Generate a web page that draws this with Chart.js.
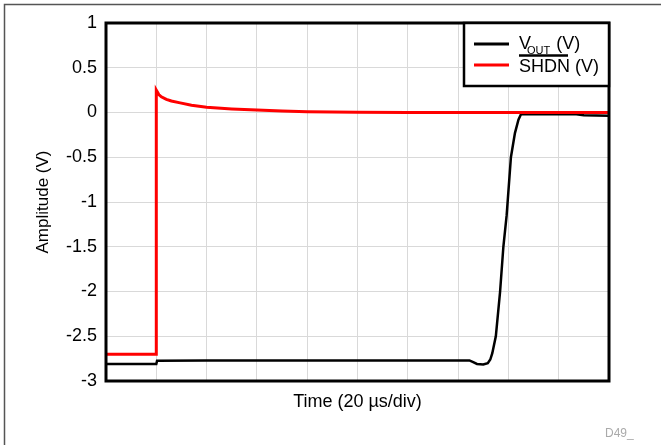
<!DOCTYPE html>
<html>
<head>
<meta charset="utf-8">
<script src="https://cdn.jsdelivr.net/npm/chart.js@4/dist/chart.umd.min.js"></script>
<style>
  html, body { margin: 0; padding: 0; background: #fff; }
  #wrap { width: 661px; height: 445px; }
</style>
</head>
<body>
<div id="wrap"><canvas id="scopeChart" width="661" height="445"></canvas></div>
<script>
// time axis in microseconds (10 divisions of 20 us)
var yTicks = [1, 0.5, 0, -0.5, -1, -1.5, -2, -2.5, -3];

var voutTime = [0, 20, 20.3, 40, 80, 120, 144.5, 146, 147.5, 150, 151.8, 152.8, 153.6, 155, 156.7, 158, 159.3, 161, 162.6, 164, 165, 175, 187, 190, 200];
var voutVolts = [-2.81, -2.81, -2.775, -2.77, -2.77, -2.77, -2.77, -2.79, -2.81, -2.815, -2.80, -2.76, -2.69, -2.5, -2.0, -1.5, -1.15, -0.5, -0.23, -0.08, -0.02, -0.02, -0.02, -0.03, -0.035];

var shdnTime = [0, 20, 20, 21, 22, 24, 26, 29, 34, 40, 50, 60, 70, 80, 90, 100, 120, 200];
var shdnVolts = [-2.7, -2.7, 0.25, 0.2, 0.175, 0.147, 0.128, 0.11, 0.08, 0.058, 0.04, 0.028, 0.017, 0.009, 0.005, 0.003, 0.0, 0.0];

var FONT = '"Liberation Sans", Arial, sans-serif';

function toPoints(xs, ys) {
  return xs.map(function (x, i) { return { x: x, y: ys[i] }; });
}

var framePlugin = {
  id: 'frame',
  beforeDraw: function (chart) {
    var c = chart.ctx;
    c.save();
    c.fillStyle = '#fff';
    c.fillRect(0, 0, chart.width, chart.height);
    c.strokeStyle = '#555';
    c.lineWidth = 1.5;
    c.beginPath();
    c.moveTo(4.5, chart.height + 2);
    c.lineTo(4.5, 4.5);
    c.lineTo(chart.width + 2, 4.5);
    c.stroke();
    c.restore();
  },
  afterDraw: function (chart) {
    var c = chart.ctx, a = chart.chartArea;
    c.save();
    c.strokeStyle = '#000';
    c.lineWidth = 3;
    c.strokeRect(a.left, a.top, a.right - a.left, a.bottom - a.top);

    // legend box
    var lx = 464, ly = a.top, lw = a.right - lx, lh = 63;
    c.fillStyle = '#fff';
    c.fillRect(lx, ly, lw, lh);
    c.lineWidth = 2.5;
    c.strokeRect(lx, ly, lw, lh);

    var ds = chart.data.datasets;
    c.lineWidth = 3;
    c.strokeStyle = ds[1].borderColor;
    c.beginPath(); c.moveTo(474, 44); c.lineTo(509, 44); c.stroke();
    c.strokeStyle = ds[0].borderColor;
    c.beginPath(); c.moveTo(474, 65); c.lineTo(509, 65); c.stroke();

    c.fillStyle = '#000';
    c.textBaseline = 'alphabetic';
    c.textAlign = 'left';
    c.font = '18px ' + FONT;
    c.fillText('V', 519, 48.5);
    var vw = c.measureText('V').width;
    c.font = '11px ' + FONT;
    c.fillText('OUT', 519 + vw - 4, 53.5);
    var ow = c.measureText('OUT').width;
    c.font = '18px ' + FONT;
    c.fillText(' (V)', 519 + vw + ow - 3, 48.5);

    c.fillText('SHDN (V)', 519, 71.5);
    var sw = c.measureText('SHDN').width;
    c.lineWidth = 2.5;
    c.strokeStyle = '#000';
    c.beginPath(); c.moveTo(519, 55.5); c.lineTo(519 + sw - 2, 55.5); c.stroke();

    c.fillStyle = '#aaa';
    c.font = '12px ' + FONT;
    c.fillText('D49_', 605, 437);
    c.restore();
  }
};

var ctx = document.getElementById('scopeChart').getContext('2d');
var scopeChart = new Chart(ctx, {
  type: 'line',
  data: {
    datasets: [
      {
        label: 'SHDN (V)',
        data: toPoints(shdnTime, shdnVolts),
        borderColor: '#ff0000',
        borderWidth: 3,
        pointRadius: 0,
        tension: 0
      },
      {
        label: 'VOUT (V)',
        data: toPoints(voutTime, voutVolts),
        borderColor: '#000000',
        borderWidth: 2.5,
        pointRadius: 0,
        tension: 0
      }
    ]
  },
  options: {
    responsive: false,
    animation: false,
    layout: { padding: { left: 0, top: 23, right: 52, bottom: 0 } },
    plugins: {
      legend: { display: false },
      tooltip: { enabled: false }
    },
    scales: {
      x: {
        type: 'linear',
        min: 0,
        max: 200,
        afterFit: function (s) { s.height = 64; },
        ticks: { display: false, stepSize: 20 },
        grid: { color: '#d9d9d9', lineWidth: 1, drawTicks: false },
        border: { display: false },
        title: {
          display: true,
          text: 'Time (20 µs/div)',
          color: '#000',
          font: { family: FONT, size: 18 },
          padding: { top: 0, bottom: 32 }
        }
      },
      y: {
        min: -3,
        max: 1,
        afterFit: function (s) { s.width = 106; },
        afterBuildTicks: function (s) { s.ticks = yTicks.map(function (v) { return { value: v }; }); },
        ticks: {
          color: '#000',
          padding: 9,
          font: { family: FONT, size: 18 },
          callback: function (v) { return String(v); }
        },
        grid: { color: '#d9d9d9', lineWidth: 1, drawTicks: false },
        border: { display: false },
        title: {
          display: true,
          text: 'Amplitude (V)',
          color: '#000',
          font: { family: FONT, size: 17 },
          padding: { top: 33, bottom: 0 }
        }
      }
    }
  },
  plugins: [framePlugin]
});
</script>
</body>
</html>
